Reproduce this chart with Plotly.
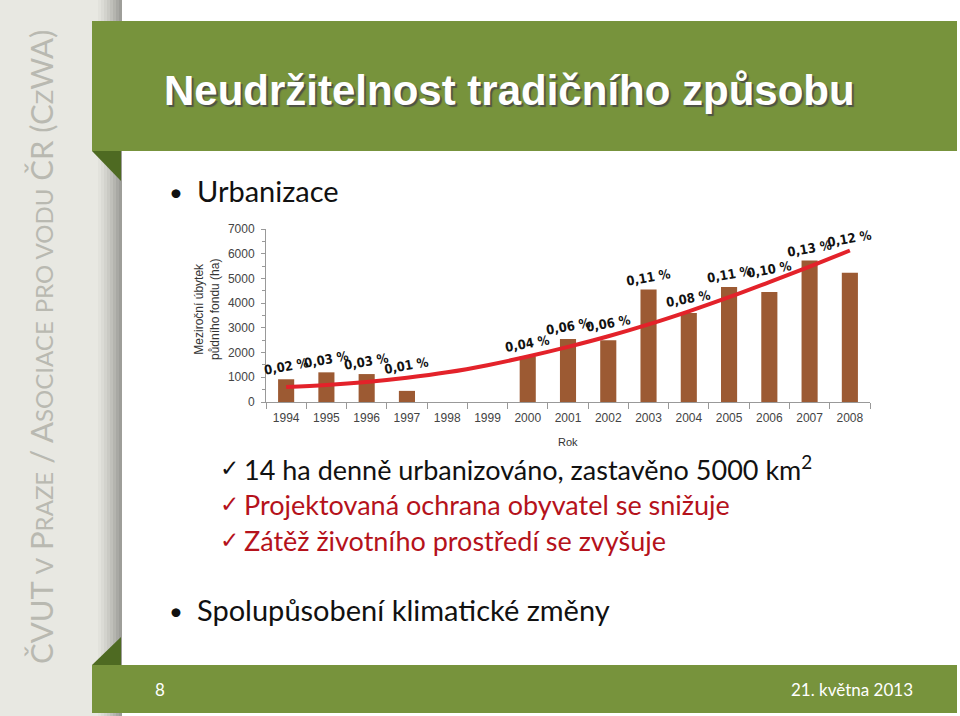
import plotly.graph_objects as go

# ---------------- data ----------------
years = ["1994", "1995", "1996", "1997", "1998", "1999", "2000", "2001",
         "2002", "2003", "2004", "2005", "2006", "2007", "2008"]
ubytek_ha = [920, 1200, 1130, 450, None, None, 1850, 2550,
             2500, 4550, 3600, 4650, 4450, 5730, 5230]
trend_ha = [610, 690, 810, 980, 1200, 1490, 1840, 2230,
            2660, 3140, 3670, 4240, 4850, 5480, 6130]
podil_pct = ["0,02 %", "0,03 %", "0,03 %", "0,01 %", "", "", "0,04 %", "0,06 %",
             "0,06 %", "0,11 %", "0,08 %", "0,11 %", "0,10 %", "0,13 %", "0,12 %"]
y_ticks = [0, 1000, 2000, 3000, 4000, 5000, 6000, 7000]

title_text = "Neudržitelnost tradičního způsobu"
bullet1 = "Urbanizace"
checks = [("14 ha denně urbanizováno, zastavěno 5000 km<sup>2</sup>", "#111111"),
          ("Projektovaná ochrana obyvatel se snižuje", "#B5121B"),
          ("Zátěž životního prostředí se zvyšuje", "#B5121B")]
bullet2 = "Spolupůsobení klimatické změny"
footer_left = "8"
footer_right = "21. května 2013"

W, H = 960, 716
def px(x): return x / W
def py(y): return 1 - y / H

GREEN = "#77933C"
BROWN = "#9C5A33"
RED = "#E3222A"
TXT = "Lato, 'Open Sans', sans-serif"

fig = go.Figure()
fig.add_trace(go.Bar(x=years, y=ubytek_ha, marker=dict(color=BROWN, line=dict(width=0)),
                     width=0.4, hoverinfo="x+y"))
fig.add_trace(go.Scatter(x=years, y=trend_ha, mode="lines",
                         line=dict(color=RED, width=4, shape="spline", smoothing=1.0),
                         hoverinfo="skip"))

ann = []
# value labels above bars / trend (x given as category index)
for i, (b, t, lab) in enumerate(zip(ubytek_ha, trend_ha, podil_pct)):
    if not lab:
        continue
    top = max(b or 0, t)
    ann.append(dict(x=i, y=top + 500, xref="x", yref="y", text=lab, showarrow=False,
                    textangle=-10,
                    font=dict(family="'DejaVu Sans Condensed', 'Liberation Sans Narrow', sans-serif",
                              size=13, color="#111111", weight="bold")))

# axis titles
ann.append(dict(x=px(190), y=py(310), xref="paper", yref="paper",
                text="Meziroční úbytek<br>půdního fondu (ha)", showarrow=False, textangle=-90,
                font=dict(family="'Liberation Sans', Arial, sans-serif", size=12, color="#333333")))
ann.append(dict(x=px(568), y=py(442), xref="paper", yref="paper", text="Rok", showarrow=False,
                font=dict(family="'Liberation Sans', Arial, sans-serif", size=11, color="#333333")))

# title with shadow
ann.append(dict(x=px(162), y=py(90), xref="paper", yref="paper", text=title_text,
                showarrow=False, xanchor="left", yanchor="middle",
                font=dict(family="'Liberation Sans', Arial, sans-serif", size=42, color="white",
                          weight="bold", shadow="2px 2px 1px rgba(70,70,70,0.85)")))

# bullets
ann.append(dict(x=px(176), y=py(192), xref="paper", yref="paper", text="•", showarrow=False,
                xanchor="center", yanchor="middle", font=dict(family=TXT, size=24, color="#111")))
ann.append(dict(x=px(195), y=py(191), xref="paper", yref="paper", text=bullet1, showarrow=False,
                xanchor="left", yanchor="middle", font=dict(family=TXT, size=29, color="#111")))
for i, (t, c) in enumerate(checks):
    yy = 468 + i * 36
    ann.append(dict(x=px(229), y=py(yy), xref="paper", yref="paper", text="✓", showarrow=False,
                    xanchor="center", yanchor="middle",
                    font=dict(family="'DejaVu Sans', sans-serif", size=23, color=c)))
    ann.append(dict(x=px(242), y=py(yy), xref="paper", yref="paper", text=t, showarrow=False,
                    xanchor="left", yanchor="middle", font=dict(family=TXT, size=27, color=c)))
ann.append(dict(x=px(176), y=py(610), xref="paper", yref="paper", text="•", showarrow=False,
                xanchor="center", yanchor="middle", font=dict(family=TXT, size=24, color="#111")))
ann.append(dict(x=px(195), y=py(609), xref="paper", yref="paper", text=bullet2, showarrow=False,
                xanchor="left", yanchor="middle", font=dict(family=TXT, size=29, color="#111")))

# footer
ann.append(dict(x=px(160), y=py(689), xref="paper", yref="paper", text=footer_left, showarrow=False,
                xanchor="center", yanchor="middle", font=dict(family=TXT, size=17, color="white")))
ann.append(dict(x=px(915), y=py(689), xref="paper", yref="paper", text=footer_right, showarrow=False,
                xanchor="right", yanchor="middle", font=dict(family=TXT, size=17, color="white")))

# sidebar vertical text (small caps imitation)
big, small = 31, 24
def sc(word):
    return word[0] + f"<span style='font-size:{small}px'>{word[1:]}</span>"
side = ("ČVUT <span style='font-size:%dpx'>V</span> " % small + sc("PRAZE") + " / " + sc("ASOCIACE")
        + " <span style='font-size:%dpx'>PRO VODU</span> ČR (C<span style='font-size:%dpx'>Z</span>WA)" % (small, small))
ann.append(dict(x=px(41), y=py(347), xref="paper", yref="paper", text=side, showarrow=False,
                textangle=-90, xanchor="center", yanchor="middle",
                font=dict(family=TXT, size=big, color="#B9B9B1")))

shapes = []
# sidebar gradient
shapes.append(dict(type="rect", xref="paper", yref="paper", x0=0, x1=px(122), y0=0, y1=1,
                   fillcolor="#E8E8E2", line=dict(width=0), layer="below"))
grad = ["#E2E2DC", "#DBDBD5", "#D3D3CD", "#CACAC4", "#C0C0BA", "#B5B5AF", "#A9A9A4", "#9E9E99"]
for i, c in enumerate(grad):
    x0 = 98 + i * 3
    shapes.append(dict(type="rect", xref="paper", yref="paper", x0=px(x0), x1=px(x0 + 3),
                       y0=0, y1=1, fillcolor=c, line=dict(width=0), layer="below"))
# header
shapes.append(dict(type="rect", xref="paper", yref="paper", x0=px(92), x1=px(957), y0=py(151), y1=py(21),
                   fillcolor=GREEN, line=dict(width=0), layer="below"))
shapes.append(dict(type="path", xref="paper", yref="paper",
                   path=f"M {px(92)},{py(151)} L {px(121)},{py(151)} L {px(121)},{py(181)} Z",
                   fillcolor="#4E6A22", line=dict(width=0), layer="below"))
# footer
shapes.append(dict(type="rect", xref="paper", yref="paper", x0=px(92), x1=px(957), y0=py(713), y1=py(665),
                   fillcolor=GREEN, line=dict(width=0), layer="below"))
shapes.append(dict(type="path", xref="paper", yref="paper",
                   path=f"M {px(92)},{py(665)} L {px(121)},{py(637)} L {px(121)},{py(665)} Z",
                   fillcolor="#4E6A22", line=dict(width=0), layer="below"))

axfont = dict(family="'Liberation Sans', Arial, sans-serif", size=12, color="#444444")
fig.update_layout(
    width=W, height=H, margin=dict(l=0, r=0, t=0, b=0, autoexpand=False),
    paper_bgcolor="white", plot_bgcolor="rgba(0,0,0,0)",
    showlegend=False, shapes=shapes, annotations=ann, bargap=0.6,
    xaxis=dict(domain=[px(266), px(870)], type="category", tickfont=axfont,
               range=[-0.5, len(years) - 0.5], tickangle=0, ticklabelstandoff=5,
               showline=True, linecolor="#999999", linewidth=1, ticks="outside",
               tickson="boundaries", ticklen=6, tickcolor="#999999", showgrid=False,
               zeroline=False, fixedrange=True),
    yaxis=dict(domain=[py(402), py(229)], range=[0, 7000], tickvals=y_ticks, tickfont=axfont,
               ticklabelstandoff=4,
               showline=True, linecolor="#999999", linewidth=1, ticks="outside", ticklen=4,
               tickcolor="#999999", showgrid=False, zeroline=False,
               minor=dict(dtick=500, ticks="outside", ticklen=3, tickcolor="#999999"),
               fixedrange=True),
)
fig.write_html("out.html")
